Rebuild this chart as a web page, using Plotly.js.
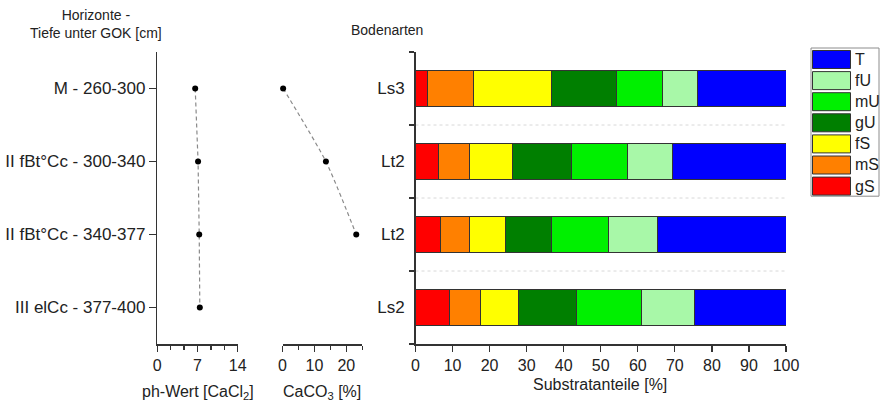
<!DOCTYPE html>
<html>
<head>
<meta charset="utf-8">
<script src="https://cdn.plot.ly/plotly-3.0.1.min.js"></script>
<style>html,body{margin:0;padding:0;background:#fff;}#chart{width:884px;height:404px;}</style>
</head>
<body>
<div id="chart"></div>
<script>
// ---- data ----
const horizons = ['M - 260-300', 'II fBt°Cc - 300-340', 'II fBt°Cc - 340-377', 'III elCc - 377-400'];
const soilTypes = ['Ls3', 'Lt2', 'Lt2', 'Ls2'];
const phValues = [6.6, 7.1, 7.3, 7.4];
const caco3Values = [0.2, 13.6, 23.1, null];

const fractionNames = ['gS', 'mS', 'fS', 'gU', 'mU', 'fU', 'T'];
const gS = [3.2, 6.3, 6.8, 9.3];
const mS = [12.4, 8.4, 7.9, 8.3];
const fS = [21.1, 11.6, 9.7, 10.3];
const gU = [17.6, 15.8, 12.3, 15.6];
const mU = [12.4, 15.1, 15.3, 17.4];
const fU = [9.3, 12.2, 13.2, 14.3];
const T  = [24.0, 30.6, 34.8, 24.8];
const fractionValues = [gS, mS, fS, gU, mU, fU, T];
const fractionColors = ['#ff0000', '#ff8000', '#ffff00', '#007f00', '#00f000', '#a8f8a8', '#0000ff'];

const phTicks = [0, 7, 14];
const caco3Ticks = [0, 10, 20];
const substrTicks = [0, 10, 20, 30, 40, 50, 60, 70, 80, 90, 100];

// ---- layout helpers ----
const W = 884, H = 404;
const PX = p => p / W;
const PY = p => 1 - p / H;
const FONT = 'Liberation Sans, Arial, sans-serif';
const TXT = '#222';
const AX = '#333';

const n = horizons.length;
const yPos = horizons.map((_, i) => n - 1 - i);
const yRange = [-0.5, n - 0.5];
const boundaries = [];
for (let i = 0; i <= n; i++) boundaries.push(i - 0.5);
const mids = boundaries.slice(1, -1);

const yDomain = [PY(344), PY(52)];

const traces = [];
traces.push({
  type: 'scatter', mode: 'lines+markers', x: phValues, y: yPos,
  xaxis: 'x', yaxis: 'y',
  line: {color: '#8a8a8a', width: 1.2, dash: '4px,3px'},
  marker: {color: '#000', size: 6}, cliponaxis: false, hoverinfo: 'x'
});
traces.push({
  type: 'scatter', mode: 'lines+markers', x: caco3Values, y: yPos,
  xaxis: 'x2', yaxis: 'y2', connectgaps: false,
  line: {color: '#8a8a8a', width: 1.2, dash: '4px,3px', shape: 'spline', smoothing: 0.6},
  marker: {color: '#000', size: 6}, cliponaxis: false, hoverinfo: 'x'
});
fractionNames.forEach((name, k) => {
  traces.push({
    type: 'bar', orientation: 'h', name: name,
    x: fractionValues[k], y: yPos, width: 0.5,
    xaxis: 'x3', yaxis: 'y3',
    marker: {color: fractionColors[k], line: {color: '#333', width: 1}}
  });
});

const tickFont = {family: FONT, size: 16, color: TXT};
const catFont = {family: FONT, size: 17, color: TXT};

const shapes = [];
// dotted separators in the bar panel
mids.forEach(v => {
  shapes.push({type: 'line', xref: 'x3 domain', yref: 'y3', x0: 0, x1: 1, y0: v, y1: v,
    line: {color: '#d8d8d8', width: 1, dash: 'dot'}, layer: 'below'});
});

const annotations = [
  {text: 'Horizonte -<br>Tiefe unter GOK [cm]', xref: 'paper', yref: 'paper', x: PX(96), y: PY(24),
   showarrow: false, font: {family: FONT, size: 14, color: TXT}, xanchor: 'center', yanchor: 'middle'},
  {text: 'Bodenarten', xref: 'paper', yref: 'paper', x: PX(387), y: PY(30),
   showarrow: false, font: {family: FONT, size: 14, color: TXT}, xanchor: 'center', yanchor: 'middle'},
  {text: 'ph-Wert [CaCl<sub>2</sub>]', xref: 'paper', yref: 'paper', x: PX(198), y: PY(392),
   showarrow: false, font: {family: FONT, size: 16, color: TXT}, xanchor: 'center', yanchor: 'middle'},
  {text: 'CaCO<sub>3</sub> [%]', xref: 'paper', yref: 'paper', x: PX(322), y: PY(392),
   showarrow: false, font: {family: FONT, size: 16, color: TXT}, xanchor: 'center', yanchor: 'middle'},
  {text: 'Substratanteile [%]', xref: 'paper', yref: 'paper', x: PX(600), y: PY(384),
   showarrow: false, font: {family: FONT, size: 16, color: TXT}, xanchor: 'center', yanchor: 'middle'}
];

// manual legend (wide swatches), top-down reversed order
const legX0 = 811, legY0 = 48, legW = 68, pitch = 21.1;
shapes.push({type: 'rect', xref: 'paper', yref: 'paper', x0: PX(legX0), x1: PX(legX0 + legW),
  y0: PY(legY0), y1: PY(legY0 + pitch * fractionNames.length + 0.5), line: {color: '#8c8c8c', width: 1}, fillcolor: '#fff'});
fractionNames.slice().reverse().forEach((name, j) => {
  const k = fractionNames.length - 1 - j;
  const top = legY0 + 2.5 + j * pitch;
  shapes.push({type: 'rect', xref: 'paper', yref: 'paper', x0: PX(812.5), x1: PX(850.5),
    y0: PY(top), y1: PY(top + 18), line: {color: '#333', width: 1}, fillcolor: fractionColors[k]});
  annotations.push({text: name, xref: 'paper', yref: 'paper', x: PX(853), y: PY(top + 9),
    showarrow: false, xanchor: 'left', yanchor: 'middle', font: {family: FONT, size: 16, color: TXT}});
});

const layout = {
  width: W, height: H,
  margin: {l: 0, r: 0, t: 0, b: 0},
  paper_bgcolor: '#fff', plot_bgcolor: 'rgba(0,0,0,0)',
  showlegend: false, barmode: 'stack', bargap: 0.5,
  font: {family: FONT, color: TXT},
  xaxis: {domain: [PX(157.3), PX(237.7)], anchor: 'y', range: [0, 14],
    tickmode: 'array', tickvals: phTicks, ticktext: phTicks.map(String),
    ticks: 'outside', ticklen: 6, tickwidth: 1.3, tickcolor: AX,
    minor: {tickmode: 'linear', tick0: 0, dtick: 7 / 3, ticks: 'outside', ticklen: 4, tickwidth: 1.3, tickcolor: AX, showgrid: false},
    showline: true, linecolor: AX, linewidth: 1.5, showgrid: false, zeroline: false,
    tickfont: tickFont, fixedrange: true},
  yaxis: {domain: yDomain, anchor: 'x', range: yRange,
    tickmode: 'array', tickvals: yPos, ticktext: horizons,
    ticks: 'outside', ticklen: 7, tickwidth: 1.3, tickcolor: AX,
    showline: true, linecolor: AX, linewidth: 1.5, showgrid: false, zeroline: false,
    tickfont: catFont, fixedrange: true},
  xaxis2: {domain: [PX(282.5), PX(362.3)], anchor: 'y2', range: [0, 25],
    tickmode: 'array', tickvals: caco3Ticks, ticktext: caco3Ticks.map(String),
    ticks: 'outside', ticklen: 6, tickwidth: 1.3, tickcolor: AX,
    minor: {tickmode: 'linear', tick0: 0, dtick: 5, ticks: 'outside', ticklen: 4, tickwidth: 1.3, tickcolor: AX, showgrid: false},
    showline: true, linecolor: AX, linewidth: 1.5, showgrid: false, zeroline: false,
    tickfont: tickFont, fixedrange: true},
  yaxis2: {domain: yDomain, anchor: 'x2', range: yRange, visible: false, fixedrange: true},
  xaxis3: {domain: [PX(415.5), PX(786)], anchor: 'y3', range: [0, 100],
    tickmode: 'array', tickvals: substrTicks, ticktext: substrTicks.map(String),
    ticks: 'outside', ticklen: 6, tickwidth: 1.3, tickcolor: AX,
    showline: true, linecolor: AX, linewidth: 1.5, showgrid: false, zeroline: false,
    tickfont: tickFont, fixedrange: true},
  yaxis3: {domain: yDomain, anchor: 'x3', range: yRange,
    tickmode: 'array', tickvals: yPos, ticktext: soilTypes,
    ticks: 'outside', ticklen: 6, tickcolor: 'rgba(0,0,0,0)',
    minor: {tickmode: 'array', tickvals: boundaries, ticks: 'outside', ticklen: 5, tickwidth: 1.3, tickcolor: AX, showgrid: false},
    showline: true, linecolor: AX, linewidth: 1.5, showgrid: false, zeroline: false,
    tickfont: catFont, fixedrange: true},
  yaxis4: {domain: yDomain, anchor: 'x3', overlaying: 'y3', range: yRange,
    tickmode: 'array', tickvals: boundaries, ticks: 'inside', ticklen: 5, tickwidth: 1.3, tickcolor: AX,
    showticklabels: false, showline: false, showgrid: false, zeroline: false, fixedrange: true},
  shapes: shapes,
  annotations: annotations
};

Plotly.newPlot('chart', traces, layout, {displayModeBar: false, staticPlot: true});
</script>
</body>
</html>
